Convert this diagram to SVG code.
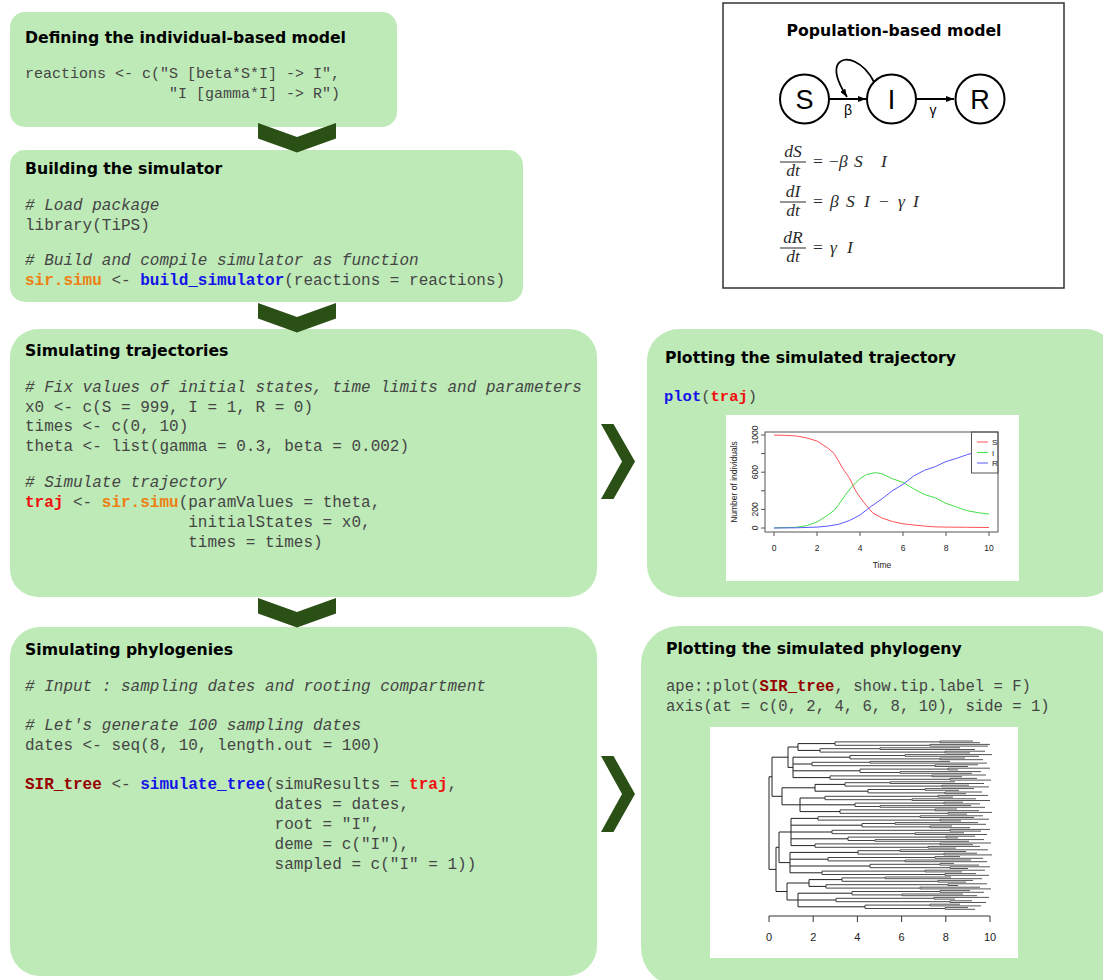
<svg xmlns="http://www.w3.org/2000/svg" width="1103" height="980" viewBox="0 0 1103 980">
<style>
.box{fill:#bdeab7}
.title{font-family:"DejaVu Sans",Verdana,sans-serif;font-weight:bold;font-size:15.7px;fill:#000}
.code{font-family:"Liberation Mono","Courier New",monospace;fill:#454545}
.cm{font-style:italic}
.k{font-weight:bold}
.or{fill:#ee7f12;font-weight:bold}
.bl{fill:#1414e8;font-weight:bold}
.rd{fill:#f01010;font-weight:bold}
.dr{fill:#960000;font-weight:bold}
.chev{fill:#2b5016}
.ax{font-family:"Liberation Sans",Arial,sans-serif;fill:#222}
.eq{font-family:"Liberation Serif","Times New Roman",serif;font-size:17.5px;fill:#2a2a2a}
.it{font-style:italic}
</style>
<defs>
<marker id="arr" viewBox="0 0 8 6" refX="8" refY="3" markerWidth="8" markerHeight="6" markerUnits="userSpaceOnUse" orient="auto"><path d="M0,0 L8,3 L0,6 z" fill="#000"/></marker>
</defs>
<rect width="1103" height="980" fill="#fff"/>

<g id="box-define">
<rect class="box" x="10" y="12" width="387" height="115" rx="15"/>
<text class="title" x="25" y="43">Defining the individual-based model</text>
<text class="code" font-size="15" x="25" y="78">reactions &lt;- c("S [beta*S*I] -&gt; I",</text>
<text class="code" font-size="15" x="169" y="98">"I [gamma*I] -&gt; R")</text>
</g>

<g id="box-build">
<rect class="box" x="10" y="150" width="513" height="152" rx="15"/>
<text class="title" x="25" y="174">Building the simulator</text>
<text class="code cm" font-size="16" x="25" y="210"># Load package</text>
<text class="code" font-size="16" x="25" y="230">library(TiPS)</text>
<text class="code cm" font-size="16" x="25" y="265"># Build and compile simulator as function</text>
<text class="code" font-size="16" x="25" y="285"><tspan class="or">sir.simu</tspan> &lt;- <tspan class="bl">build_simulator</tspan>(reactions = reactions)</text>
</g>

<g id="box-simulate">
<rect class="box" x="10" y="329" width="587" height="268" rx="28"/>
<text class="title" x="25" y="356">Simulating trajectories</text>
<text class="code cm" font-size="16" x="25" y="392"># Fix values of initial states, time limits and parameters</text>
<text class="code" font-size="16" x="25" y="412">x0 &lt;- c(S = 999, I = 1, R = 0)</text>
<text class="code" font-size="16" x="25" y="431">times &lt;- c(0, 10)</text>
<text class="code" font-size="16" x="25" y="451">theta &lt;- list(gamma = 0.3, beta = 0.002)</text>
<text class="code cm" font-size="16" x="25" y="487"># Simulate trajectory</text>
<text class="code" font-size="16" x="25" y="507"><tspan class="rd">traj</tspan> &lt;- <tspan class="or">sir.simu</tspan>(paramValues = theta,</text>
<text class="code" font-size="16" x="188.2" y="527">initialStates = x0,</text>
<text class="code" font-size="16" x="188.2" y="547">times = times)</text>
</g>

<g id="box-phylo">
<rect class="box" x="10" y="627" width="587" height="349" rx="30"/>
<text class="title" x="25" y="655">Simulating phylogenies</text>
<text class="code cm" font-size="16" x="25" y="691"># Input : sampling dates and rooting compartment</text>
<text class="code cm" font-size="16" x="25" y="730"># Let's generate 100 sampling dates</text>
<text class="code" font-size="16" x="25" y="750">dates &lt;- seq(8, 10, length.out = 100)</text>
<text class="code" font-size="16" x="25" y="789"><tspan class="dr">SIR_tree</tspan> &lt;- <tspan class="bl">simulate_tree</tspan>(simuResults = <tspan class="rd">traj</tspan>,</text>
<text class="code" font-size="16" x="274.6" y="809">dates = dates,</text>
<text class="code" font-size="16" x="274.6" y="829">root = "I",</text>
<text class="code" font-size="16" x="274.6" y="849">deme = c("I"),</text>
<text class="code" font-size="16" x="274.6" y="869">sampled = c("I" = 1))</text>
</g>

<g id="box-population">
<rect x="723" y="3" width="341" height="285" fill="#fff" stroke="#333" stroke-width="1.5"/>
<text class="title" x="894" y="36" text-anchor="middle">Population-based model</text>
<circle cx="804.5" cy="99" r="24.5" fill="#fff" stroke="#000" stroke-width="2"/>
<circle cx="891.5" cy="99" r="24.5" fill="#fff" stroke="#000" stroke-width="2"/>
<circle cx="980" cy="99" r="24.5" fill="#fff" stroke="#000" stroke-width="2"/>
<text x="804.5" y="109" text-anchor="middle" font-family="Liberation Sans,Arial,sans-serif" font-size="27">S</text>
<text x="891.5" y="109" text-anchor="middle" font-family="Liberation Sans,Arial,sans-serif" font-size="27">I</text>
<text x="980" y="109" text-anchor="middle" font-family="Liberation Sans,Arial,sans-serif" font-size="27">R</text>
<path d="M829 99 H866" stroke="#000" stroke-width="1.8" fill="none" marker-end="url(#arr)"/>
<path d="M916 99 H954" stroke="#000" stroke-width="1.8" fill="none" marker-end="url(#arr)"/>
<path d="M874 82 C864 62, 845 54, 838 64 C833 72, 840 86, 847 97" stroke="#000" stroke-width="1.8" fill="none" marker-end="url(#arr)"/>
<text x="848" y="115" text-anchor="middle" font-family="Liberation Sans,Arial,sans-serif" font-size="14">β</text>
<text x="933" y="115" text-anchor="middle" font-family="Liberation Sans,Arial,sans-serif" font-size="14">γ</text>
<g class="eq">
<text class="it" x="793" y="157" text-anchor="middle">dS</text>
<path d="M780 162 H806" stroke="#2a2a2a" stroke-width="1"/>
<text class="it" x="793" y="176" text-anchor="middle">dt</text>
<text y="167"><tspan x="813">=</tspan><tspan x="829">−</tspan><tspan class="it" x="839">β</tspan><tspan class="it" x="854">S</tspan><tspan class="it" x="881">I</tspan></text>
<text class="it" x="793" y="197" text-anchor="middle">dI</text>
<path d="M780 202 H806" stroke="#2a2a2a" stroke-width="1"/>
<text class="it" x="793" y="216" text-anchor="middle">dt</text>
<text y="207"><tspan x="813">=</tspan><tspan class="it" x="830">β</tspan><tspan class="it" x="846">S</tspan><tspan class="it" x="864">I</tspan><tspan x="879">−</tspan><tspan class="it" x="898">γ</tspan><tspan class="it" x="913">I</tspan></text>
<text class="it" x="793" y="243" text-anchor="middle">dR</text>
<path d="M780 248 H806" stroke="#2a2a2a" stroke-width="1"/>
<text class="it" x="793" y="262" text-anchor="middle">dt</text>
<text y="253"><tspan x="813">=</tspan><tspan class="it" x="830">γ</tspan><tspan class="it" x="847">I</tspan></text>
</g>
</g>

<g id="box-plot-traj">
<rect class="box" x="647" y="329" width="470" height="268" rx="32"/>
<text class="title" x="665" y="363">Plotting the simulated trajectory</text>
<text class="code" font-size="15.5" x="664" y="401"><tspan class="bl">plot</tspan>(<tspan class="rd">traj</tspan>)</text>
<rect x="726" y="415" width="293" height="166" fill="#fff"/>
<g fill="none" stroke-width="1">
<polyline stroke="#ff5252" points="774,435.1 784.8,435.3 795.5,435.9 806.3,437.8 817,441 827.8,448 834.2,453.6 838.5,461 842.8,468.5 849.3,477.8 855.7,490.8 860,497.3 866.5,505.7 872.9,513.1 881.5,517.8 892.3,521.5 903,523.8 913.8,525 924.5,526.1 935.3,526.9 946,527.1 967.5,527.3 989,527.5"/>
<polyline stroke="#44e044" points="774,527.9 795.5,527.3 806.3,525.7 817,522 827.8,515 834.2,510.3 838.5,504.8 845,495.5 851.4,487.1 860,478.7 866.5,474.5 875.1,472.7 881.5,473.6 892.3,478.7 903,482.4 913.8,488.9 924.5,494.5 935.3,497.8 946,503.4 956.8,507.1 967.5,510.8 978.3,512.7 989,514.1"/>
<polyline stroke="#5a5aff" points="774,528 795.5,527.8 817,527.1 827.8,526.1 838.5,524.3 849.3,520.6 860,515 870.8,506.6 881.5,499.2 892.3,490.8 903,484.3 913.8,475.9 924.5,470.3 935.3,466.6 946,461.5 956.8,458.3 967.5,454.5 978.3,451.7 989,449.9"/>
</g>
<rect x="971.5" y="432" width="26.5" height="41" fill="#fff" stroke="#555" stroke-width="1"/>
<path d="M977 442H988" stroke="#ff5252"/>
<path d="M977 452.5H988" stroke="#44e044"/>
<path d="M977 463H988" stroke="#5a5aff"/>
<g class="ax" font-size="8">
<text x="992" y="445">S</text>
<text x="992" y="455.5">I</text>
<text x="992" y="466">R</text>
</g>
<rect x="765" y="432" width="233" height="100" fill="none" stroke="#555" stroke-width="1"/>
<path d="M774 532V536 M817 532V536 M860 532V536 M903 532V536 M946 532V536 M989 532V536 M765 528H761 M765 509.4H761 M765 490.8H761 M765 472.2H761 M765 453.6H761 M765 435H761" stroke="#555" stroke-width="1" fill="none"/>
<g class="ax" font-size="8.5" text-anchor="middle">
<text x="774" y="551">0</text>
<text x="817" y="551">2</text>
<text x="860" y="551">4</text>
<text x="903" y="551">6</text>
<text x="946" y="551">8</text>
<text x="989" y="551">10</text>
<text x="882" y="568">Time</text>
<text transform="translate(757.5,528) rotate(-90)">0</text>
<text transform="translate(757.5,509.4) rotate(-90)">200</text>
<text transform="translate(757.5,472.2) rotate(-90)">600</text>
<text transform="translate(757.5,435) rotate(-90)">1000</text>
<text transform="translate(737,482) rotate(-90)">Number of individuals</text>
</g>
</g>

<g id="box-plot-phylo">
<rect class="box" x="641" y="626" width="480" height="360" rx="38"/>
<text class="title" x="666" y="654">Plotting the simulated phylogeny</text>
<text class="code" font-size="15.6" x="666" y="691">ape::plot(<tspan class="dr">SIR_tree</tspan>, show.tip.label = F)</text>
<text class="code" font-size="15.6" x="666" y="711">axis(at = c(0, 2, 4, 6, 8, 10), side = 1)</text>
<rect x="710" y="727" width="308" height="231" fill="#fff"/>
<path fill="none" stroke="#555" stroke-width="1" d="M973 741H940V742.7H980 M990 744.4H930V746.1H988 M960 747.8H880V749.5H975 M985 751.2H945V752.9H970 M992 754.6H905V756.3H979 M965 758H940V759.7H983 M950 761.4H870V763.1H987 M978 764.8H935V766.5H968 M990 768.2H948V769.9H958 M981 771.6H900V773.3H972 M986 775H932V776.7H962 M977 778.4H950V780.1H991 M955 781.8H890V783.5H984 M969 785.2H942V786.9H989 M974 788.6H925V790.3H959 M982 792H945V793.7H966 M988 795.4H938V797.1H953 M976 798.8H912V800.5H990 M963 802.2H944V803.9H980 M971 805.6H880V807.3H985 M957 809H935V810.7H979 M992 812.4H948V814.1H967 M983 815.8H920V817.5H974 M989 819.2H940V820.9H961 M978 822.6H895V824.3H986 M952 826H930V827.7H970 M990 829.4H950V831.1H981 M964 832.8H915V834.5H987 M975 836.2H946V837.9H958 M984 839.6H875V841.3H969 M991 843H940V844.7H973 M980 846.4H928V848.1H956 M988 849.8H900V851.5H966 M977 853.2H944V854.9H992 M960 856.6H935V858.3H983 M971 860H905V861.7H987 M954 863.4H940V865.1H979 M990 866.8H950V868.5H968 M985 870.2H925V871.9H962 M976 873.6H945V875.3H989 M951 877H885V878.7H982 M973 880.4H938V882.1H966 M987 883.8H948V885.5H958 M980 887.2H920V888.9H991 M970 890.6H940V892.3H984 M963 894H902V895.7H977 M989 897.4H934V899.1H955 M972 900.8H950V902.5H986 M960 904.2H930V905.9H981 M968 907.6H945V909.3H975"/>
<path fill="none" stroke="#444" stroke-width="1" d="M940 741.9H835V745.3H930 M880 748.7H820V752.1H945 M905 755.5H850V758.9H940 M870 762.3H812V765.7H935 M948 769.1H860V772.5H900 M932 775.9H830V779.3H950 M890 782.7H845V786.1H942 M925 789.5H868V792.9H945 M938 796.3H825V799.7H912 M944 803.1H855V806.5H880 M935 809.9H840V813.3H948 M920 816.7H818V820.1H940 M895 823.5H862V826.9H930 M950 830.3H832V833.7H915 M946 837.1H848V840.5H875 M940 843.9H815V847.3H928 M900 850.7H858V854.1H944 M935 857.5H828V860.9H905 M940 864.3H870V867.7H950 M925 871.1H822V874.5H945 M885 877.9H842V881.3H938 M948 884.7H826V888.1H920 M940 891.5H852V894.9H902 M934 898.3H836V901.7H950 M930 905.1H865V908.5H945"/>
<path fill="none" stroke="#222" stroke-width="1" d="M835 743.6H798V750.4H820 M850 757.2H793V777.6H830 M793 764H812 M793 770.8H860 M845 784.4H815V791.2H868 M825 798H800V811.6H840 M800 804.8H855 M818 818.4H791V845.6H815 M791 825.2H862 M791 832H832 M791 838.8H848 M858 852.4H790V872.8H822 M790 859.2H828 M790 866H870 M842 879.6H809V886.4H826 M852 893.2H798V906.8H865 M798 900H836 M798 747H788V767.4H793 M815 787.8H782V804.8H800 M788 757.2H772V796.3H782 M791 832H779V862.6H790 M809 883H787V900H798 M779 847.3H776V891.5H787 M772 776.8H769V869.4H776"/>
<path d="M769 916H990 M769 916V922 M813.2 916V922 M857.4 916V922 M901.6 916V922 M945.8 916V922 M990 916V922" stroke="#333" stroke-width="1" fill="none"/>
<g class="ax" font-size="11" text-anchor="middle">
<text x="769" y="941">0</text>
<text x="813.2" y="941">2</text>
<text x="857.4" y="941">4</text>
<text x="901.6" y="941">6</text>
<text x="945.8" y="941">8</text>
<text x="990" y="941">10</text>
</g>
</g>

<g id="connectors">
<polygon class="chev" points="258,123 297,137 336,123 336,138.5 297,152.5 258,138.5"/>
<polygon class="chev" points="258,303 297,317 336,303 336,318.5 297,332.5 258,318.5"/>
<polygon class="chev" points="258,598 297,612 336,598 336,613.5 297,627.5 258,613.5"/>
<polygon class="chev" points="601,424 613.5,424 635,461.5 613.5,499 601,499 622,461.5"/>
<polygon class="chev" points="601,756 613.5,756 635,794 613.5,832 601,832 622,794"/>
</g>
</svg>
